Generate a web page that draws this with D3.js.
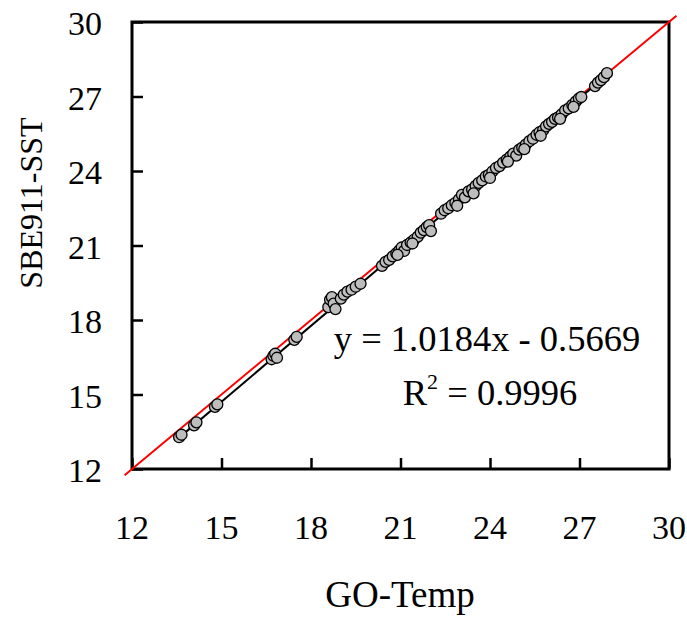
<!DOCTYPE html>
<html>
<head>
<meta charset="utf-8">
<script src="https://cdn.jsdelivr.net/npm/d3@7"></script>
<style>
  html, body { margin: 0; padding: 0; background: #fff; }
  svg { display: block; }
</style>
</head>
<body>
<svg id="chart" width="687" height="617"></svg>
<script>
// GO-Temp readings (x) against SBE911 sea-surface temperature (y), °C
const goTemp = [
  13.58, 13.66, 14.08, 14.16, 14.78, 14.86,
  16.68, 16.74, 16.80, 16.86, 17.44, 17.52,
  18.58, 18.64, 18.70, 18.76, 18.82, 19.00, 19.10, 19.22, 19.36, 19.50, 19.66,
  20.38, 20.50, 20.62, 20.74, 20.86, 20.96, 21.04, 21.12, 21.22, 21.34, 21.46,
  21.58, 21.68, 21.78, 21.88, 21.96, 22.02,
  22.36, 22.48, 22.60, 22.72, 22.84, 22.96, 23.06, 23.16, 23.28, 23.40, 23.52,
  23.62, 23.74, 23.86, 23.96, 24.08, 24.20, 24.32, 24.44, 24.56, 24.68, 24.78,
  24.88, 24.98, 25.08, 25.20, 25.32, 25.44, 25.56, 25.66, 25.78, 25.88, 25.98,
  26.08, 26.18, 26.28, 26.40, 26.52, 26.64, 26.76, 26.88, 26.98, 27.06,
  27.52, 27.62, 27.72, 27.82, 27.92,
  22.90, 23.45, 24.00, 24.60, 25.15, 25.70, 26.35, 26.80, 20.90, 21.40
];
const sbeSST = [
  13.28, 13.38, 13.76, 13.88, 14.50, 14.60,
  16.42, 16.56, 16.64, 16.48, 17.20, 17.32,
  18.52, 18.82, 18.92, 18.66, 18.44, 18.86, 19.02, 19.14, 19.22, 19.34, 19.46,
  20.18, 20.34, 20.42, 20.56, 20.68, 20.80, 20.92, 20.78, 21.02, 21.12, 21.24,
  21.36, 21.52, 21.62, 21.74, 21.82, 21.58,
  22.28, 22.42, 22.50, 22.62, 22.72, 22.86, 23.04, 22.94, 23.18, 23.26, 23.40,
  23.52, 23.62, 23.78, 23.84, 23.98, 24.12, 24.20, 24.34, 24.46, 24.58, 24.70,
  24.62, 24.86, 24.94, 25.06, 25.20, 25.30, 25.46, 25.56, 25.64, 25.80, 25.90,
  25.98, 26.10, 26.16, 26.28, 26.44, 26.52, 26.66, 26.80, 26.92, 26.98,
  27.42, 27.56, 27.66, 27.78, 27.94,
  22.60, 23.10, 23.72, 24.38, 24.88, 25.42, 26.10, 26.58, 20.62, 21.08
];
const tickValues = [12, 15, 18, 21, 24, 27, 30];

// Linear fit reported on the chart
const slope = 1.0184;
const intercept = -0.5669;
const rSquared = 0.9996;
// 1:1 reference line extent
const oneToOne = [11.75, 30.25];

const serif = "'Liberation Serif', 'Times New Roman', Times, serif";

const svg = d3.select("#chart")
  .style("font-family", serif);
const plotLeft = 132, plotRight = 669, plotTop = 22, plotBottom = 469;

const x = d3.scaleLinear().domain([12, 30]).range([plotLeft, plotRight]);
const y = d3.scaleLinear().domain([12, 30]).range([plotBottom, plotTop]);

// Plot frame
svg.append("rect")
  .attr("x", plotLeft).attr("y", plotTop)
  .attr("width", plotRight - plotLeft).attr("height", plotBottom - plotTop)
  .attr("fill", "none").attr("stroke", "#000").attr("stroke-width", 3);

// Axes with inward ticks, labels placed separately
const xAxis = svg.append("g")
  .attr("transform", `translate(0,${plotBottom})`)
  .call(d3.axisBottom(x).tickValues(tickValues).tickSizeInner(-11).tickSizeOuter(0).tickFormat(""));
const yAxis = svg.append("g")
  .attr("transform", `translate(${plotLeft},0)`)
  .call(d3.axisLeft(y).tickValues(tickValues).tickSizeInner(-11).tickSizeOuter(0).tickFormat(""));
[xAxis, yAxis].forEach(g => {
  g.select(".domain").remove();
  g.selectAll(".tick line").attr("stroke", "#000").attr("stroke-width", 2.5);
});

svg.append("g").selectAll("text").data(tickValues).join("text")
  .attr("x", d => x(d)).attr("y", 539)
  .attr("text-anchor", "middle")
  .style("font-family", serif)
  .attr("font-size", 34)
  .text(d => d);

svg.append("g").selectAll("text").data(tickValues).join("text")
  .attr("x", 102).attr("y", d => y(d) + 13)
  .attr("text-anchor", "end")
  .style("font-family", serif)
  .attr("font-size", 34)
  .text(d => d);

// Axis titles
svg.append("text")
  .attr("x", 400).attr("y", 607)
  .attr("text-anchor", "middle").attr("font-size", 37)
  .style("font-family", serif)
  .text("GO-Temp");
svg.append("text")
  .attr("transform", "translate(42,203) rotate(-90)")
  .attr("text-anchor", "middle").attr("font-size", 32)
  .style("font-family", serif)
  .text("SBE911-SST");

// 1:1 line
svg.append("line")
  .attr("x1", x(oneToOne[0])).attr("y1", y(oneToOne[0]))
  .attr("x2", x(oneToOne[1])).attr("y2", y(oneToOne[1]))
  .attr("stroke", "#ff0000").attr("stroke-width", 2);

// Regression line over the data range
const [xmin, xmax] = d3.extent(goTemp);
svg.append("line")
  .attr("x1", x(xmin)).attr("y1", y(slope * xmin + intercept))
  .attr("x2", x(xmax)).attr("y2", y(slope * xmax + intercept))
  .attr("stroke", "#000").attr("stroke-width", 2);

// Observations
svg.append("g").selectAll("circle").data(goTemp).join("circle")
  .attr("cx", (d) => x(d))
  .attr("cy", (d, i) => y(sbeSST[i]))
  .attr("r", 5.5)
  .attr("fill", "#bdbdbd")
  .attr("stroke", "#000")
  .attr("stroke-width", 1.3);

// Fit equation and R²
svg.append("text")
  .attr("x", 487).attr("y", 351)
  .attr("text-anchor", "middle").attr("font-size", 36.5)
  .style("font-family", serif)
  .text(`y = ${slope.toFixed(4)}x - ${Math.abs(intercept).toFixed(4)}`);
const r2 = svg.append("text")
  .attr("x", 490).attr("y", 405)
  .attr("text-anchor", "middle").attr("font-size", 36.5)
  .style("font-family", serif);
r2.append("tspan").text("R");
r2.append("tspan").attr("dy", -16).attr("font-size", 22).text("2");
r2.append("tspan").attr("dy", 16).text(` = ${rSquared.toFixed(4)}`);
</script>
</body>
</html>
